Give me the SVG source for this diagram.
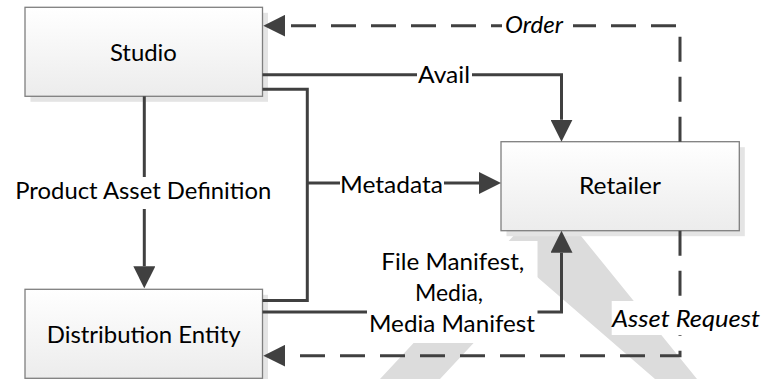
<svg xmlns="http://www.w3.org/2000/svg" width="761" height="379" viewBox="0 0 761 379">
<defs>
<linearGradient id="boxfill" x1="0" y1="0" x2="0" y2="1">
<stop offset="0" stop-color="#ffffff"/>
<stop offset="1" stop-color="#ececec"/>
</linearGradient>
<marker id="arrow" markerUnits="userSpaceOnUse" markerWidth="22" markerHeight="22" viewBox="0 0 22 22" refX="0" refY="11" orient="auto">
<path d="M0,0 L22,11 L0,22 Z" fill="#404040"/>
</marker>
</defs>
<style>
.wm{fill:#dcdcdc}
.shadow{fill:#e4e4e4}
.box{fill:url(#boxfill);stroke:#7f7f7f;stroke-width:1.3}
.conn{fill:none;stroke:#404040;stroke-width:3;stroke-linejoin:miter;stroke-linecap:butt}
.arr{marker-end:url(#arrow)}
.dash{stroke-dasharray:25 15}
.bg{fill:#ffffff}
.lbl{font-family:Lato,"Liberation Sans",sans-serif;font-size:24px;fill:#000;text-anchor:middle}
.it{font-style:italic}
</style>
<rect width="761" height="379" fill="#ffffff"/>
<g id="watermark">
<polygon class="wm" points="380,379 518,231 577,231 697,379 655,379 536,276 440,379"/>
</g>
<g id="studio">
<rect class="shadow" x="30.5" y="12.8" width="237.5" height="89"/>
<rect class="box" x="25" y="7.3" width="237.5" height="89"/>
<text class="lbl" x="143.4" y="60.5" textLength="67" lengthAdjust="spacingAndGlyphs">Studio</text>
</g>
<g id="retailer">
<rect class="shadow" x="506.5" y="147.2" width="238.3" height="89"/>
<rect class="box" x="501" y="141.7" width="238.3" height="89"/>
<text class="lbl" x="620" y="194.3" textLength="82" lengthAdjust="spacingAndGlyphs">Retailer</text>
</g>
<g id="distribution">
<rect class="shadow" x="30.5" y="294.8" width="237.5" height="89"/>
<rect class="box" x="25" y="289.3" width="237.5" height="89"/>
<text class="lbl" x="143.7" y="343" textLength="194" lengthAdjust="spacingAndGlyphs">Distribution Entity</text>
</g>
<g id="connectors">
<path class="conn arr" d="M144.3,96.3 V266.3"/>
<path class="conn arr" d="M262.5,74.7 H561.5 V119.7"/>
<path class="conn" d="M262.5,89.3 H307.3 V300.5 H262.5"/>
<path class="conn arr" d="M307.3,183 H479"/>
<path class="conn arr" d="M262.5,312 H561.5 V252.7"/>
<path class="conn dash arr" d="M680,141.7 V25.7 H285.3"/>
<path class="conn dash arr" d="M680,230.7 V355.7 H285.3"/>
<g id="labels">
<rect class="bg" x="417" y="63" width="55" height="26"/>
<text class="lbl" x="444" y="83.3" textLength="52" lengthAdjust="spacingAndGlyphs">Avail</text>
<rect class="bg" x="340" y="171" width="104" height="26"/>
<text class="lbl" x="391.5" y="193.3" textLength="103" lengthAdjust="spacingAndGlyphs">Metadata</text>
<rect class="bg" x="13" y="177" width="261" height="32"/>
<text class="lbl" x="143.3" y="199" textLength="256" lengthAdjust="spacingAndGlyphs">Product Asset Definition</text>
<rect class="bg" x="502" y="13" width="71" height="26"/>
<text class="lbl it" x="534" y="33.3" textLength="58" lengthAdjust="spacingAndGlyphs">Order</text>
<rect class="bg" x="611.7" y="301" width="150" height="34"/>
<text class="lbl it" x="686" y="326.7" textLength="148" lengthAdjust="spacingAndGlyphs">Asset Request</text>
<rect class="bg" x="367" y="241" width="170.5" height="102"/>
<text class="lbl" x="452.8" y="270" textLength="143" lengthAdjust="spacingAndGlyphs">File Manifest,</text>
<text class="lbl" x="449" y="301" textLength="68" lengthAdjust="spacingAndGlyphs">Media,</text>
<text class="lbl" x="452" y="332.3" textLength="166" lengthAdjust="spacingAndGlyphs">Media Manifest</text>
</g>
</g>
</svg>
